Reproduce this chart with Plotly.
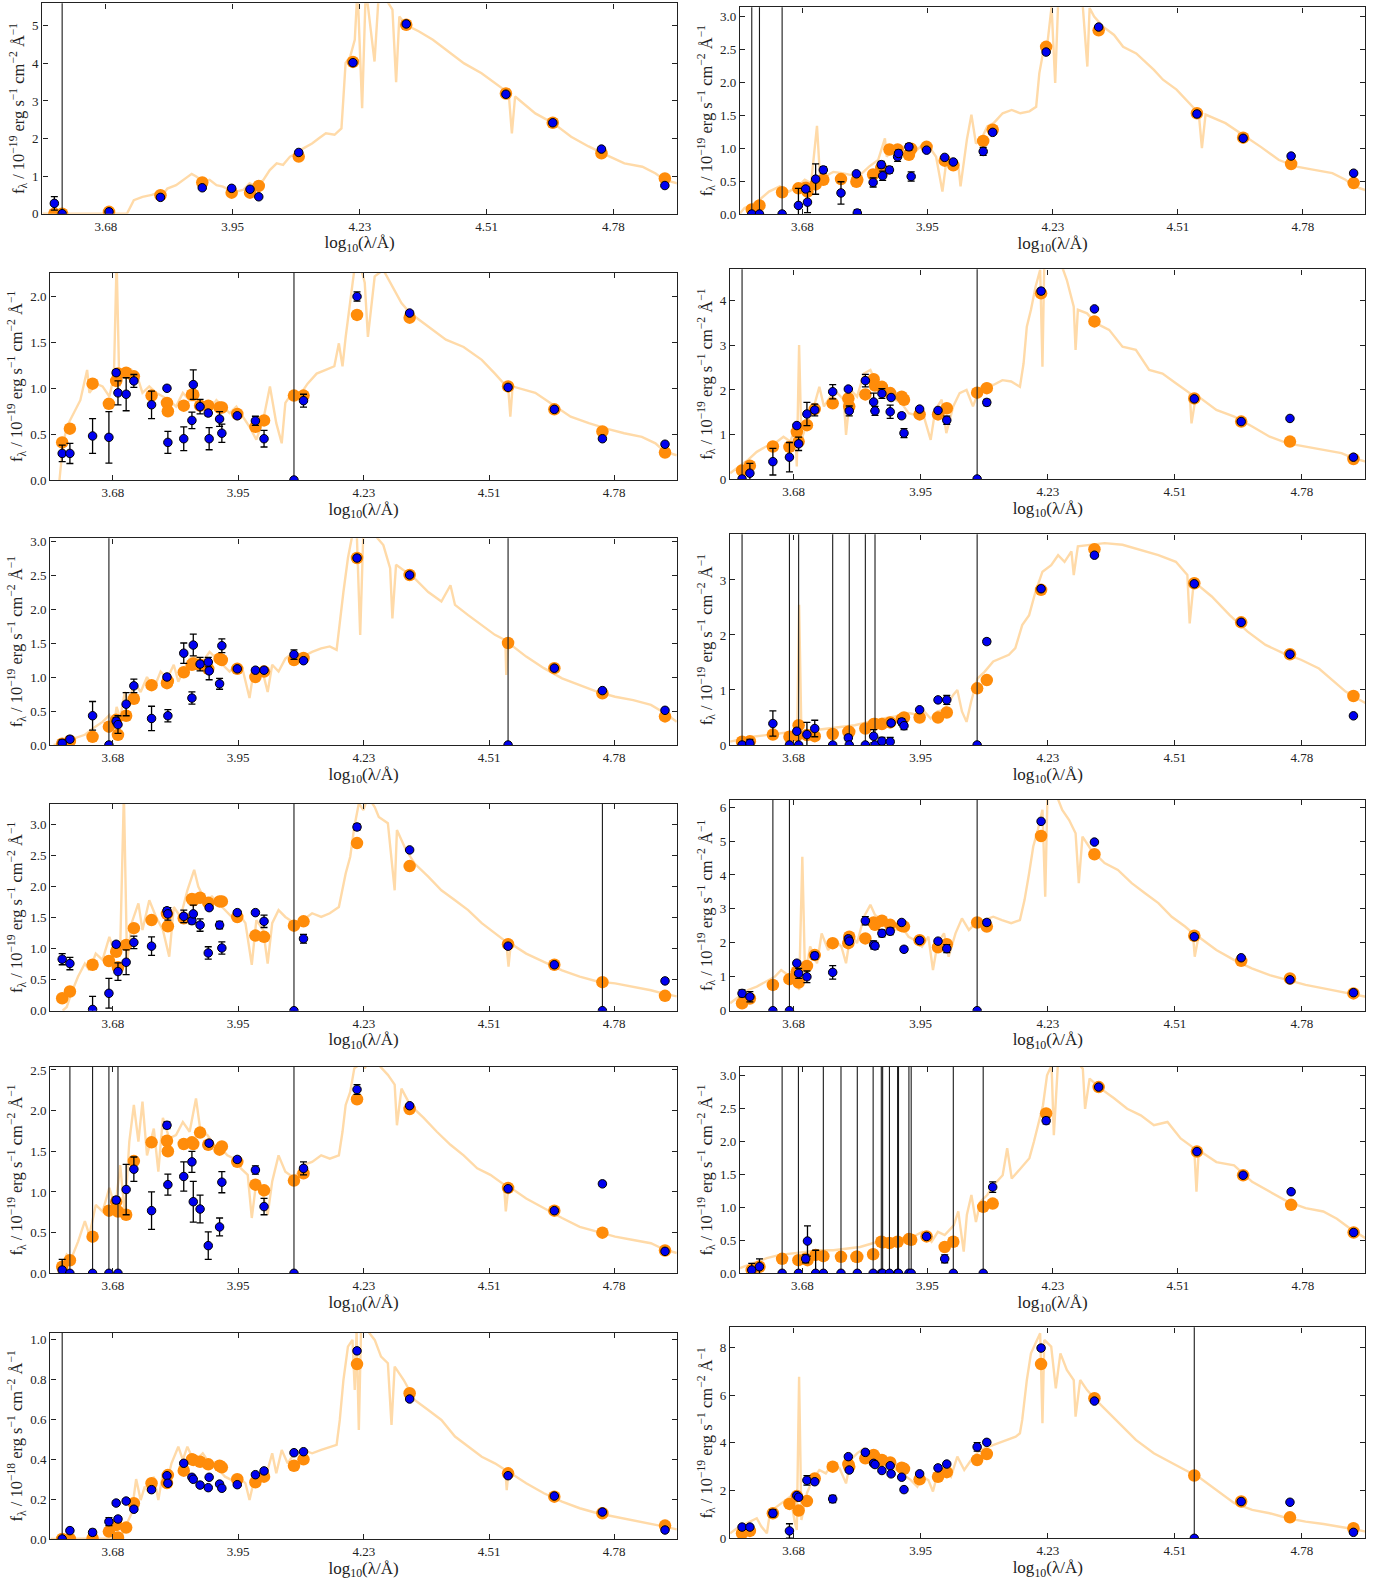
import plotly.graph_objects as go

W, H = 1389, 1584

# common filter positions, log10(lambda/A)
FILTER_X = [3.566, 3.583, 3.633, 3.669, 3.685, 3.689, 3.707, 3.724, 3.763, 3.797,
            3.799, 3.834, 3.852, 3.855, 3.870, 3.888, 3.890, 3.913, 3.918, 3.952,
            3.992, 4.011, 4.077, 4.098, 4.216, 4.332, 4.549, 4.651, 4.757, 4.895]

X_RANGE = [3.540, 4.921]
X_TICKS = [3.678, 3.954, 4.231, 4.507, 4.783]
X_LABELS = ["3.68", "3.95", "4.23", "4.51", "4.78"]

N = None

# ---------------- panel 1 ----------------
P1_SPEC = [(3.540, 0.0), (3.724, 0.0), (3.739, 0.36), (3.758, 0.45), (3.778, 0.50), (3.793, 0.56),
           (3.800, 0.47), (3.812, 0.67), (3.831, 0.76), (3.846, 0.90), (3.865, 1.06), (3.875, 0.99),
           (3.890, 0.85), (3.904, 0.90), (3.919, 0.76), (3.933, 0.72), (3.948, 0.63), (3.962, 0.59),
           (3.977, 0.63), (3.991, 0.81), (4.006, 0.72), (4.021, 0.90), (4.035, 1.16), (4.050, 1.34),
           (4.064, 1.30), (4.079, 1.52), (4.093, 1.61), (4.108, 1.74), (4.127, 1.87), (4.142, 2.01),
           (4.157, 2.14), (4.176, 2.10), (4.191, 2.27), (4.195, 3.03), (4.200, 4.01), (4.210, 4.18),
           (4.220, 4.63), (4.226, 6.0), (4.236, 2.81), (4.244, 6.0), (4.263, 4.05), (4.273, 6.0),
           (4.292, 5.65), (4.302, 5.43), (4.310, 3.50), (4.317, 5.25), (4.331, 5.03), (4.360, 4.85),
           (4.390, 4.63), (4.419, 4.36), (4.458, 4.00), (4.496, 3.74), (4.535, 3.38), (4.555, 3.21),
           (4.562, 2.14), (4.569, 3.12), (4.613, 2.67), (4.652, 2.41), (4.691, 2.05), (4.729, 1.79),
           (4.768, 1.56), (4.807, 1.34), (4.846, 1.25), (4.875, 1.07), (4.894, 0.90), (4.922, 0.81)]
P1_OBS = [0.275, 0.0, N, N, 0.05, N, N, N, N, 0.435, N, N, N, N, N, 0.69, N, N, N, 0.675,
          0.65, 0.45, N, 1.63, 4.02, 5.05, 3.18, 2.42, 1.72, 0.75]
P1_ERR = [0.18, 0, N, N, 0.02, N, N, N, N, 0.02, N, N, N, N, N, 0.03, N, N, N, 0.03,
          0.04, 0.03, N, 0.04, 0.05, 0.04, 0.03, 0.03, 0.04, 0.03]
P1_LIM = [1]
P1_MOD = [0.0, 0.0, N, N, 0.05, N, N, N, N, 0.49, N, N, N, N, N, 0.83, N, N, N, 0.56,
          0.56, 0.74, N, 1.52, 4.04, 5.03, 3.20, 2.42, 1.61, 0.94]

# ---------------- panel 2 ----------------
P2_SPEC = [(3.540, 0.01), (3.550, 0.09), (3.566, 0.14), (3.582, 0.21), (3.604, 0.34), (3.628, 0.42),
           (3.648, 0.34), (3.668, 0.42), (3.683, 0.52), (3.697, 0.47), (3.710, 1.34), (3.717, 0.52),
           (3.727, 0.57), (3.746, 0.64), (3.766, 0.62), (3.786, 0.59), (3.805, 0.59), (3.825, 0.72),
           (3.845, 0.82), (3.860, 1.15), (3.864, 0.87), (3.879, 1.00), (3.894, 0.95), (3.909, 1.07),
           (3.923, 0.92), (3.938, 1.02), (3.953, 1.07), (3.973, 0.87), (3.987, 0.34), (3.997, 0.87),
           (4.022, 0.75), (4.027, 0.42), (4.041, 1.13), (4.051, 1.51), (4.061, 1.07), (4.076, 1.18),
           (4.086, 1.33), (4.100, 1.38), (4.120, 1.53), (4.140, 1.58), (4.159, 1.53), (4.179, 1.56),
           (4.194, 1.63), (4.201, 2.14), (4.209, 2.44), (4.218, 2.54), (4.228, 3.15), (4.236, 1.99),
           (4.243, 3.30), (4.277, 3.30), (4.297, 3.15), (4.307, 2.24), (4.312, 3.13), (4.322, 3.00),
           (4.341, 2.85), (4.366, 2.72), (4.386, 2.54), (4.415, 2.44), (4.454, 2.19), (4.474, 2.04),
           (4.504, 1.89), (4.533, 1.68), (4.553, 1.53), (4.560, 1.00), (4.568, 1.51), (4.612, 1.38),
           (4.651, 1.20), (4.690, 1.02), (4.730, 0.82), (4.769, 0.72), (4.808, 0.67), (4.848, 0.62),
           (4.877, 0.52), (4.897, 0.42), (4.922, 0.36)]
P2_OBS = [0.0, 0.0, 0.0, 0.13, 0.38, 0.18, 0.53, 0.67, 0.32, 0.61, 0.015, 0.48, 0.75, 0.58, 0.67,
          0.87, 0.92, 1.02, 0.57, 0.97, 0.86, 0.79, 0.95, 1.24, 2.46, 2.84, 1.52, 1.15, 0.88, 0.62]
P2_ERR = [0, 0, 0, 0.26, 0.03, 0.16, 0.23, 0.05, 0.17, 0.02, 0.05, 0.07, 0.05, 0.07, 0.05,
          0.07, 0.05, 0.05, 0.07, 0.02, 0.02, 0.02, 0.06, 0.02, 0.02, 0.02, 0.02, 0.02, 0.02, 0.02]
P2_LIM = [0, 1, 2]
P2_MOD = [0.07, 0.13, 0.33, 0.39, 0.40, 0.34, 0.45, 0.52, 0.53, 0.49, 0.52, 0.60, 0.70, 0.65, 0.98,
          0.98, N, 0.90, 0.99, 1.02, 0.81, 0.74, 1.11, 1.28, 2.54, 2.79, 1.53, 1.16, 0.76, 0.47]

# ---------------- panel 3 ----------------
P3_SPEC = [(3.560, 0.0), (3.567, 0.36), (3.576, 0.58), (3.591, 0.73), (3.606, 0.87), (3.621, 1.20),
           (3.626, 0.95), (3.641, 1.05), (3.655, 1.02), (3.670, 0.91), (3.680, 1.13), (3.686, 2.40),
           (3.692, 1.02), (3.704, 1.20), (3.719, 1.20), (3.734, 1.09), (3.743, 0.95), (3.758, 1.02),
           (3.773, 0.95), (3.788, 0.91), (3.802, 0.87), (3.817, 0.80), (3.832, 0.95), (3.847, 0.87),
           (3.861, 0.87), (3.876, 0.84), (3.891, 0.76), (3.906, 0.87), (3.920, 0.80), (3.935, 0.73),
           (3.950, 0.80), (3.965, 0.69), (3.979, 0.58), (3.994, 0.44), (4.009, 0.65), (4.024, 1.02),
           (4.038, 0.62), (4.050, 0.40), (4.058, 0.84), (4.073, 0.95), (4.088, 0.91), (4.107, 1.05),
           (4.127, 1.16), (4.147, 1.20), (4.166, 1.24), (4.176, 1.49), (4.184, 1.24), (4.191, 1.56),
           (4.201, 1.96), (4.210, 2.29), (4.220, 2.40), (4.233, 2.15), (4.240, 1.56), (4.255, 2.22),
           (4.274, 2.29), (4.294, 2.11), (4.314, 1.93), (4.333, 1.82), (4.363, 1.71), (4.392, 1.60),
           (4.412, 1.53), (4.451, 1.45), (4.491, 1.31), (4.520, 1.16), (4.540, 1.05), (4.550, 0.96),
           (4.554, 0.69), (4.559, 1.02), (4.609, 0.95), (4.648, 0.82), (4.687, 0.69), (4.727, 0.62),
           (4.766, 0.56), (4.805, 0.51), (4.844, 0.47), (4.874, 0.40), (4.894, 0.31), (4.921, 0.27)]
P3_OBS = [0.29, 0.29, 0.48, 0.465, 1.17, 0.95, 0.935, 1.08, 0.82, 1.00, 0.41, 0.45, 0.65, 1.04, 0.80,
          0.73, 0.45, 0.665, 0.51, 0.70, 0.645, 0.45, 0.0, 0.865, 2.00, 1.82, 1.01, 0.77, 0.45, 0.39]
P3_ERR = [0.09, 0.11, 0.19, 0.28, 0.03, 0.13, 0.18, 0.07, 0.15, 0.02, 0.12, 0.13, 0.09, 0.16, 0.08,
          0.03, 0.12, 0.08, 0.10, 0.02, 0.05, 0.09, 0, 0.07, 0.05, 0.02, 0.01, 0.01, 0.01, 0.01]
P3_LIM = [22]
P3_MOD = [0.41, 0.56, 1.05, 0.83, 1.08, 1.16, 1.17, 1.13, 0.92, 0.84, 0.75, 0.81, 0.93, 0.93, 0.81,
          0.81, N, 0.79, 0.79, 0.72, 0.58, 0.65, 0.92, 0.92, 1.80, 1.77, 1.02, 0.77, 0.53, 0.30]

# ---------------- panel 4 ----------------
P4_SPEC = [(3.540, 0.13), (3.559, 0.28), (3.579, 0.43), (3.598, 0.61), (3.618, 0.73), (3.637, 0.80),
           (3.656, 0.95), (3.671, 0.84), (3.681, 1.14), (3.685, 0.28), (3.690, 3.01), (3.695, 0.88),
           (3.707, 1.25), (3.719, 1.51), (3.734, 2.07), (3.744, 1.63), (3.758, 1.85), (3.773, 1.93),
           (3.787, 1.78), (3.792, 0.99), (3.802, 2.00), (3.816, 1.85), (3.831, 2.37), (3.845, 2.45),
           (3.855, 2.22), (3.870, 2.15), (3.884, 1.93), (3.899, 1.78), (3.913, 1.70), (3.928, 1.48),
           (3.942, 1.44), (3.957, 1.55), (3.971, 1.03), (3.976, 0.88), (3.986, 1.55), (4.000, 1.78),
           (4.010, 1.03), (4.025, 1.63), (4.039, 1.93), (4.054, 2.00), (4.068, 1.63), (4.083, 2.04),
           (4.097, 2.15), (4.112, 2.11), (4.132, 2.22), (4.151, 2.19), (4.170, 2.07), (4.178, 2.60),
           (4.185, 3.42), (4.194, 3.80), (4.204, 4.32), (4.214, 4.70), (4.219, 2.52), (4.223, 4.90),
           (4.257, 4.90), (4.272, 4.47), (4.287, 3.87), (4.291, 2.90), (4.296, 3.80), (4.316, 3.72),
           (4.335, 3.50), (4.364, 3.35), (4.393, 2.97), (4.422, 2.90), (4.451, 2.45), (4.480, 2.37),
           (4.509, 2.15), (4.539, 1.93), (4.543, 1.25), (4.553, 1.89), (4.597, 1.55), (4.636, 1.40),
           (4.675, 1.18), (4.713, 0.95), (4.752, 0.80), (4.791, 0.73), (4.830, 0.65), (4.869, 0.58),
           (4.897, 0.46), (4.922, 0.39)]
P4_OBS = [0.0, 0.13, 0.39, 0.49, 1.20, 0.79, 1.46, 1.55, 1.96, 2.02, 1.53, 2.21, 1.73, 1.53, 1.92,
          1.51, 1.83, 1.42, 1.03, 1.57, 1.54, 1.32, 0.0, 1.72, 4.22, 3.82, 1.80, 1.29, 1.36, 0.49]
P4_ERR = [0, 0.22, 0.30, 0.33, 0.04, 0.15, 0.26, 0.13, 0.16, 0.03, 0.11, 0.14, 0.20, 0.10, 0.11,
          0.15, 0.04, 0.06, 0.10, 0.03, 0.04, 0.09, 0, 0.07, 0.06, 0.02, 0.03, 0.03, 0.03, 0.02]
P4_LIM = [0, 22]
P4_MOD = [0.19, 0.30, 0.73, 0.72, 1.06, 0.84, 1.21, 1.57, 1.70, 1.81, 1.63, 1.90, 2.24, 2.10, 2.07,
          1.93, N, 1.85, 1.78, 1.45, 1.45, 1.59, 1.94, 2.04, 4.17, 3.54, 1.81, 1.29, 0.84, 0.45]

# ---------------- panel 5 ----------------
P5_SPEC = [(3.547, 0.0), (3.560, 0.02), (3.576, 0.06), (3.596, 0.10), (3.616, 0.15), (3.635, 0.25),
           (3.655, 0.34), (3.670, 0.44), (3.680, 0.29), (3.686, 0.56), (3.694, 0.39), (3.704, 0.78),
           (3.714, 0.59), (3.724, 0.93), (3.739, 0.78), (3.753, 1.00), (3.768, 0.83), (3.783, 1.08),
           (3.798, 0.98), (3.812, 1.18), (3.822, 0.93), (3.832, 1.08), (3.847, 1.27), (3.861, 1.30),
           (3.876, 1.23), (3.891, 1.37), (3.906, 1.27), (3.920, 1.18), (3.935, 1.08), (3.950, 1.18),
           (3.965, 1.08), (3.979, 0.69), (3.989, 1.13), (4.009, 1.05), (4.019, 0.78), (4.029, 1.18),
           (4.043, 1.08), (4.058, 1.27), (4.078, 1.37), (4.097, 1.30), (4.117, 1.37), (4.137, 1.42),
           (4.156, 1.45), (4.171, 1.40), (4.178, 1.81), (4.186, 2.25), (4.196, 2.75), (4.206, 3.10),
           (4.215, 3.20), (4.223, 1.62), (4.230, 3.14), (4.255, 3.09), (4.274, 2.94), (4.289, 2.60),
           (4.294, 1.86), (4.302, 2.65), (4.323, 2.55), (4.343, 2.45), (4.373, 2.25), (4.402, 2.11),
           (4.422, 2.35), (4.432, 2.06), (4.461, 1.91), (4.491, 1.76), (4.520, 1.62), (4.543, 1.54),
           (4.545, 1.03), (4.550, 1.50), (4.589, 1.30), (4.628, 1.13), (4.668, 0.98), (4.707, 0.88),
           (4.746, 0.78), (4.785, 0.71), (4.825, 0.66), (4.864, 0.59), (4.894, 0.47), (4.921, 0.34)]
P5_OBS = [0.025, 0.085, 0.43, 0.0, 0.35, 0.30, 0.60, 0.87, 0.39, 1.00, 0.43, 1.35, 0.69, 1.47, 1.19,
          1.22, 1.09, 0.90, 1.46, 1.12, 1.10, 1.10, 1.33, 1.24, 2.75, 2.50, 0.0, 1.13, 0.80, 0.51]
P5_ERR = [0.05, 0.04, 0.21, 0, 0.05, 0.13, 0.17, 0.10, 0.18, 0.02, 0.09, 0.15, 0.09, 0.16, 0.10,
          0.07, 0.13, 0.08, 0.10, 0.02, 0.03, 0.02, 0.07, 0.02, 0.02, 0.02, 0, 0.02, 0.02, 0.02]
P5_LIM = [3, 26]
P5_MOD = [0.02, 0.06, 0.12, 0.27, 0.37, 0.15, 0.43, 0.68, 0.88, 0.91, 0.94, 1.07, 1.18, 1.20, 1.18,
          1.12, N, 1.27, 1.25, 1.12, 1.00, 1.08, 1.25, 1.28, 2.75, 2.50, 1.50, 1.13, 0.76, 0.42]

# ---------------- panel 6 ----------------
P6_SPEC = [(3.540, 0.06), (3.559, 0.09), (3.589, 0.15), (3.618, 0.18), (3.647, 0.21), (3.676, 0.24),
           (3.686, 0.22), (3.690, 2.55), (3.695, 0.24), (3.724, 0.27), (3.753, 0.29), (3.782, 0.33),
           (3.811, 0.36), (3.841, 0.42), (3.870, 0.48), (3.899, 0.52), (3.928, 0.58), (3.947, 0.55),
           (3.962, 0.61), (3.976, 0.48), (3.991, 0.61), (4.005, 0.64), (4.025, 0.91), (4.034, 1.00),
           (4.044, 0.61), (4.054, 0.42), (4.064, 0.79), (4.078, 1.21), (4.093, 1.33), (4.112, 1.52),
           (4.131, 1.58), (4.146, 1.64), (4.160, 1.76), (4.175, 2.18), (4.190, 2.36), (4.204, 2.79),
           (4.219, 3.15), (4.238, 3.27), (4.253, 3.45), (4.267, 3.33), (4.282, 3.52), (4.287, 3.09),
           (4.296, 3.61), (4.325, 3.64), (4.354, 3.67), (4.393, 3.64), (4.432, 3.55), (4.471, 3.45),
           (4.509, 3.33), (4.534, 3.09), (4.539, 2.21), (4.548, 2.97), (4.587, 2.70), (4.626, 2.36),
           (4.665, 2.06), (4.704, 1.82), (4.742, 1.67), (4.781, 1.55), (4.820, 1.39), (4.849, 1.18),
           (4.878, 0.97), (4.902, 0.85), (4.922, 0.76)]
P6_OBS = [0.0, 0.03, 0.39, 0.0, 0.25, 0.0, 0.19, 0.30, 0.0, 0.13, 0.0, 0.0, 0.16, 0.0, 0.07,
          0.06, 0.40, 0.42, 0.35, 0.64, 0.82, 0.82, 0.0, 1.88, 2.84, 3.45, 2.93, 2.23, 1.65, 0.53]
P6_ERR = [0, 0.07, 0.23, 0, 0.03, 0, 0.22, 0.15, 0, 0.05, 0, 0, 0.12, 0, 0.07,
          0.08, 0.04, 0.06, 0.07, 0.02, 0.03, 0.08, 0, 0.05, 0.03, 0.02, 0.02, 0.02, 0.02, 0.02]
P6_LIM = [0, 3, 5, 8, 10, 11, 13, 22]
P6_MOD = [0.06, 0.07, 0.19, 0.15, 0.17, 0.36, 0.18, 0.16, 0.20, 0.24, 0.24, 0.30, 0.38, 0.38, 0.38,
          0.41, N, 0.47, 0.50, 0.50, 0.50, 0.59, 1.03, 1.18, 2.82, 3.56, 2.94, 2.23, 1.65, 0.89]

# ---------------- panel 7 ----------------
P7_SPEC = [(3.567, 0.0), (3.576, 0.06), (3.586, 0.28), (3.601, 0.55), (3.616, 0.76), (3.626, 0.65),
           (3.640, 0.92), (3.655, 0.82), (3.670, 1.19), (3.684, 0.87), (3.694, 1.03), (3.702, 3.50),
           (3.709, 0.76), (3.719, 1.41), (3.734, 1.73), (3.743, 1.30), (3.758, 1.78), (3.773, 1.51),
           (3.788, 1.30), (3.802, 0.87), (3.812, 1.67), (3.827, 1.51), (3.842, 1.94), (3.857, 2.27),
           (3.866, 2.00), (3.881, 1.78), (3.896, 1.84), (3.911, 1.73), (3.925, 1.62), (3.940, 1.51),
           (3.955, 1.57), (3.970, 1.41), (3.984, 0.74), (3.994, 1.46), (4.009, 1.30), (4.019, 0.76),
           (4.029, 1.41), (4.043, 1.62), (4.058, 1.51), (4.078, 1.41), (4.097, 1.46), (4.117, 1.57),
           (4.137, 1.51), (4.156, 1.57), (4.176, 1.67), (4.184, 1.94), (4.191, 2.21), (4.201, 2.48),
           (4.210, 2.96), (4.220, 3.34), (4.230, 3.23), (4.240, 3.45), (4.255, 3.28), (4.264, 3.12),
           (4.284, 3.02), (4.299, 1.94), (4.304, 2.91), (4.324, 2.59), (4.343, 2.37), (4.373, 2.16),
           (4.402, 1.94), (4.432, 1.78), (4.461, 1.62), (4.491, 1.41), (4.520, 1.25), (4.545, 1.11),
           (4.550, 0.71), (4.555, 1.08), (4.589, 0.92), (4.628, 0.79), (4.668, 0.65), (4.707, 0.55),
           (4.746, 0.47), (4.785, 0.44), (4.825, 0.39), (4.864, 0.33), (4.894, 0.27), (4.921, 0.23)]
P7_OBS = [0.83, 0.76, 0.02, 0.28, 1.07, 0.63, 0.78, 1.10, 1.04, 1.61, 1.56, 1.52, 1.45, 1.56, 1.38,
          0.93, 1.66, 1.38, 1.01, 1.58, 1.58, 1.44, 0.0, 1.16, 2.96, 2.59, 1.04, 0.74, 0.0, 0.48]
P7_ERR = [0.09, 0.10, 0.21, 0.24, 0.04, 0.14, 0.20, 0.10, 0.15, 0.05, 0.10, 0.10, 0.05, 0.14, 0.10,
          0.10, 0.03, 0.06, 0.10, 0.02, 0.03, 0.10, 0, 0.07, 0.05, 0.02, 0.02, 0.02, 0, 0.02]
P7_LIM = [22, 28]
P7_MOD = [0.20, 0.31, 0.74, 0.80, 0.95, 0.70, 1.06, 1.33, 1.46, 1.56, 1.36, 1.49, 1.80, 1.78, 1.82,
          1.74, N, 1.76, 1.76, 1.51, 1.21, 1.19, 1.37, 1.44, 2.70, 2.33, 1.07, 0.74, 0.46, 0.24]

# ---------------- panel 8 ----------------
P8_SPEC = [(3.540, 0.22), (3.559, 0.41), (3.579, 0.61), (3.598, 0.71), (3.618, 0.86), (3.637, 1.00),
           (3.651, 1.20), (3.666, 1.05), (3.681, 1.25), (3.690, 0.61), (3.697, 4.54), (3.703, 1.00),
           (3.714, 1.89), (3.729, 1.40), (3.739, 2.28), (3.753, 1.79), (3.768, 2.08), (3.782, 1.89),
           (3.792, 1.40), (3.802, 2.28), (3.816, 1.99), (3.831, 2.77), (3.845, 3.12), (3.855, 2.82),
           (3.870, 2.67), (3.884, 2.53), (3.899, 2.38), (3.913, 2.48), (3.928, 2.18), (3.942, 2.08),
           (3.957, 1.89), (3.971, 2.18), (3.981, 1.20), (3.991, 1.99), (4.005, 2.28), (4.015, 1.59),
           (4.030, 2.28), (4.044, 2.72), (4.059, 2.38), (4.074, 2.58), (4.093, 2.67), (4.112, 2.77),
           (4.131, 2.67), (4.151, 2.58), (4.170, 2.67), (4.180, 3.26), (4.190, 4.05), (4.199, 4.84),
           (4.209, 5.33), (4.219, 5.92), (4.225, 3.36), (4.230, 6.40), (4.248, 6.40), (4.262, 5.92),
           (4.277, 5.62), (4.291, 5.23), (4.298, 3.76), (4.306, 5.13), (4.325, 4.74), (4.354, 4.35),
           (4.383, 4.15), (4.413, 3.76), (4.442, 3.46), (4.471, 3.17), (4.500, 2.77), (4.529, 2.48),
           (4.546, 2.28), (4.550, 1.59), (4.558, 2.18), (4.597, 1.79), (4.636, 1.49), (4.674, 1.25),
           (4.713, 1.05), (4.752, 0.90), (4.791, 0.76), (4.830, 0.66), (4.869, 0.56), (4.897, 0.49),
           (4.922, 0.41)]
P8_OBS = [0.51, 0.41, 0.0, 0.0, 1.40, 1.10, 1.00, 1.62, 1.13, 2.12, 2.05, 2.65, 1.94, 1.91, 2.28,
          2.34, N, 2.60, 1.81, 2.07, 2.05, 1.83, 0.0, 2.60, 5.58, 4.97, 2.18, 1.56, 0.91, 0.53]
P8_ERR = [0.10, 0.15, 0, 0, 0.05, 0.15, 0.17, 0.10, 0.20, 0.08, 0.08, 0.12, 0.12, 0.10, 0.10,
          0.10, N, 0.04, 0.07, 0.06, 0.03, 0.12, 0, 0.08, 0.05, 0.03, 0.03, 0.03, 0.03, 0.03]
P8_LIM = [2, 3, 22]
P8_MOD = [0.22, 0.36, 0.76, 0.93, 1.15, 0.83, 1.32, 1.64, 1.99, 1.99, 2.18, 2.13, 2.60, 2.53, 2.65,
          2.53, N, 2.50, 2.48, 2.08, 1.87, 1.96, 2.60, 2.48, 5.15, 4.61, 2.21, 1.47, 0.95, 0.51]

# ---------------- panel 9 ----------------
P9_SPEC = [(3.557, 0.0), (3.567, 0.10), (3.576, 0.23), (3.586, 0.18), (3.601, 0.39), (3.616, 0.64),
           (3.626, 0.47), (3.640, 0.84), (3.655, 0.76), (3.670, 1.05), (3.683, 0.80), (3.694, 1.33),
           (3.704, 0.72), (3.714, 1.62), (3.724, 2.07), (3.734, 1.62), (3.743, 2.11), (3.753, 1.45),
           (3.768, 1.78), (3.778, 1.25), (3.788, 1.91), (3.802, 1.66), (3.817, 1.70), (3.832, 1.86),
           (3.847, 1.74), (3.861, 2.15), (3.871, 1.74), (3.886, 1.70), (3.901, 1.58), (3.916, 1.54),
           (3.930, 1.45), (3.945, 1.41), (3.960, 1.29), (3.975, 1.21), (3.984, 0.68), (3.994, 1.13),
           (4.009, 0.96), (4.019, 0.72), (4.029, 1.13), (4.043, 1.45), (4.058, 1.25), (4.078, 1.17),
           (4.097, 1.33), (4.117, 1.37), (4.137, 1.45), (4.156, 1.41), (4.176, 1.45), (4.184, 1.74),
           (4.191, 2.07), (4.201, 2.23), (4.210, 2.52), (4.220, 2.56), (4.227, 2.65), (4.233, 2.52),
           (4.245, 2.65), (4.264, 2.56), (4.284, 2.44), (4.299, 2.32), (4.304, 1.82), (4.314, 2.27),
           (4.333, 2.07), (4.363, 1.91), (4.392, 1.74), (4.422, 1.58), (4.451, 1.45), (4.481, 1.29),
           (4.510, 1.21), (4.540, 1.09), (4.544, 0.76), (4.550, 1.07), (4.589, 0.92), (4.628, 0.80),
           (4.668, 0.68), (4.707, 0.57), (4.746, 0.51), (4.785, 0.45), (4.825, 0.41), (4.864, 0.37),
           (4.894, 0.29), (4.921, 0.25)]
P9_OBS = [0.04, 0.0, 0.0, 0.0, 0.90, 0.0, 1.03, 1.28, 0.77, 1.82, 1.09, 1.19, 1.37, 0.88, 0.79,
          0.34, 1.60, 0.57, 1.12, 1.40, 1.27, 0.82, 0.0, 1.29, 2.26, 2.06, 1.04, 0.77, 1.10, 0.27]
P9_ERR = [0.13, 0, 0, 0, 0.04, 0, 0.31, 0.15, 0.23, 0.04, 0.13, 0.18, 0.13, 0.25, 0.17,
          0.17, 0.03, 0.11, 0.13, 0.03, 0.05, 0.10, 0, 0.08, 0.06, 0.02, 0.02, 0.02, 0.03, 0.02]
P9_LIM = [1, 2, 3, 5, 22]
P9_MOD = [0.08, 0.16, 0.45, 0.77, 0.88, 0.76, 0.72, 1.38, 1.61, 1.63, 1.50, 1.59, 1.61, 1.59, 1.73,
          1.58, N, 1.52, 1.56, 1.37, 1.09, 1.02, 1.14, 1.23, 2.14, 2.02, 1.05, 0.77, 0.50, 0.28]

# ---------------- panel 10 ----------------
P10_SPEC = [(3.540, 0.08), (3.560, 0.13), (3.579, 0.18), (3.599, 0.23), (3.628, 0.28), (3.658, 0.30),
            (3.687, 0.33), (3.717, 0.35), (3.746, 0.35), (3.776, 0.38), (3.805, 0.40), (3.835, 0.46),
            (3.864, 0.51), (3.894, 0.53), (3.923, 0.56), (3.943, 0.63), (3.963, 0.48), (3.977, 0.63),
            (3.992, 0.58), (4.012, 0.73), (4.022, 0.94), (4.034, 0.33), (4.041, 0.89), (4.051, 1.19),
            (4.061, 0.78), (4.071, 1.09), (4.086, 1.19), (4.100, 1.34), (4.120, 1.49), (4.130, 1.90),
            (4.140, 1.44), (4.159, 1.59), (4.179, 1.75), (4.189, 2.00), (4.199, 2.30), (4.209, 2.55),
            (4.218, 3.01), (4.228, 3.16), (4.233, 2.10), (4.243, 3.30), (4.277, 3.26), (4.297, 3.11),
            (4.302, 2.50), (4.312, 2.96), (4.336, 2.81), (4.366, 2.66), (4.395, 2.50), (4.425, 2.40),
            (4.454, 2.25), (4.484, 2.30), (4.513, 2.05), (4.543, 1.90), (4.548, 1.24), (4.553, 1.87),
            (4.592, 1.69), (4.631, 1.64), (4.671, 1.39), (4.710, 1.24), (4.749, 1.09), (4.789, 0.99),
            (4.828, 0.94), (4.858, 0.83), (4.887, 0.68), (4.922, 0.53)]
P10_OBS = [0.05, 0.10, 0.0, 0.0, 0.22, 0.49, 0.0, 0.0, 0.0, N, 0.0, 0.0, 0.0, 0.0, 0.0,
           0.0, 0.0, 0.0, 0.0, 0.56, 0.22, 0.0, 0.0, 1.31, 2.32, 2.83, 1.85, 1.49, 1.24, 0.62]
P10_ERR = [0.10, 0.12, 0, 0, 0.06, 0.23, 0.35, 0, 0, N, 0, 0, 0, 0, 0,
           0, 0, 0, 0, 0.03, 0.06, 0, 0, 0.08, 0.05, 0.02, 0.02, 0.02, 0.03, 0.02]
P10_LIM = [2, 3, 7, 8, 10, 11, 12, 13, 14, 15, 16, 17, 18, 21, 22]
P10_MOD = [0.05, 0.10, 0.22, 0.20, 0.22, 0.20, 0.28, 0.26, 0.25, 0.25, 0.25, 0.29, 0.48, 0.47, 0.46,
           0.48, N, 0.52, 0.51, 0.56, 0.40, 0.48, 1.01, 1.06, 2.43, 2.83, 1.85, 1.49, 1.04, 0.62]

# ---------------- panel 11 ----------------
P11_SPEC = [(3.540, 0.0), (3.675, 0.0), (3.689, 0.003), (3.699, 0.028), (3.709, 0.078), (3.719, 0.129),
            (3.729, 0.300), (3.739, 0.195), (3.748, 0.262), (3.758, 0.229), (3.768, 0.312), (3.778, 0.195),
            (3.788, 0.329), (3.798, 0.295), (3.807, 0.379), (3.822, 0.462), (3.832, 0.396), (3.842, 0.462),
            (3.852, 0.412), (3.861, 0.396), (3.876, 0.429), (3.891, 0.379), (3.906, 0.362), (3.916, 0.337),
            (3.925, 0.312), (3.940, 0.295), (3.955, 0.312), (3.970, 0.279), (3.979, 0.195), (3.989, 0.295),
            (4.004, 0.329), (4.019, 0.346), (4.029, 0.429), (4.038, 0.329), (4.050, 0.446), (4.063, 0.379),
            (4.078, 0.429), (4.097, 0.446), (4.117, 0.429), (4.137, 0.446), (4.156, 0.462), (4.171, 0.471),
            (4.178, 0.596), (4.186, 0.796), (4.196, 0.963), (4.206, 0.997), (4.211, 0.746), (4.215, 1.040),
            (4.220, 0.546), (4.225, 1.060), (4.240, 1.040), (4.255, 0.997), (4.269, 0.913), (4.284, 0.880),
            (4.292, 0.571), (4.299, 0.863), (4.319, 0.796), (4.343, 0.696), (4.373, 0.646), (4.402, 0.596),
            (4.432, 0.513), (4.461, 0.462), (4.491, 0.412), (4.520, 0.379), (4.543, 0.346), (4.546, 0.245),
            (4.550, 0.337), (4.589, 0.279), (4.628, 0.229), (4.668, 0.187), (4.707, 0.154), (4.746, 0.129),
            (4.785, 0.112), (4.825, 0.095), (4.864, 0.078), (4.894, 0.062), (4.921, 0.048)]
P11_OBS = [0.0, 0.042, 0.033, 0.087, 0.18, 0.10, 0.19, 0.149, 0.247, 0.317, 0.279, 0.379, 0.309, 0.299, 0.27,
           0.257, 0.309, 0.275, 0.254, 0.272, 0.322, 0.341, 0.432, 0.437, 0.942, 0.701, 0.317, 0.215, 0.135, 0.045]
P11_ERR = [0, 0.01, 0.015, 0.02, 0.01, 0.01, 0.01, 0.01, 0.01, 0.008, 0.008, 0.008, 0.005, 0.005, 0.005,
           0.005, 0.005, 0.005, 0.005, 0.005, 0.005, 0.005, 0.005, 0.005, 0.008, 0.005, 0.005, 0.005, 0.005, 0.005]
P11_LIM = [0]
P11_MOD = [0.0, 0.0, 0.003, 0.037, 0.07, 0.008, 0.057, 0.179, 0.279, 0.28, 0.32, 0.342, 0.399, 0.396, 0.387,
           0.374, N, 0.367, 0.359, 0.299, 0.284, 0.312, 0.367, 0.399, 0.876, 0.73, 0.329, 0.212, 0.129, 0.067]

# ---------------- panel 12 ----------------
P12_SPEC = [(3.540, 0.21), (3.555, 0.42), (3.569, 0.56), (3.584, 0.70), (3.598, 0.84), (3.608, 0.49),
            (3.620, 0.21), (3.627, 1.12), (3.642, 1.33), (3.656, 1.54), (3.671, 1.75), (3.681, 0.63),
            (3.685, 0.35), (3.690, 6.77), (3.695, 0.77), (3.707, 1.89), (3.719, 2.44), (3.734, 2.86),
            (3.748, 2.72), (3.763, 3.14), (3.778, 2.93), (3.792, 2.30), (3.802, 3.28), (3.816, 3.56),
            (3.831, 3.77), (3.845, 3.63), (3.860, 3.42), (3.874, 3.14), (3.889, 2.93), (3.904, 2.86),
            (3.918, 2.65), (3.933, 2.44), (3.947, 2.16), (3.957, 2.58), (3.971, 2.44), (3.981, 1.96),
            (3.991, 2.72), (4.005, 2.86), (4.020, 2.58), (4.034, 3.42), (4.049, 2.86), (4.064, 3.28),
            (4.083, 3.70), (4.103, 3.84), (4.122, 3.98), (4.141, 4.12), (4.161, 4.26), (4.170, 4.40),
            (4.175, 4.96), (4.185, 6.63), (4.194, 7.75), (4.204, 8.17), (4.214, 8.59), (4.219, 4.82),
            (4.223, 8.31), (4.238, 8.03), (4.248, 6.28), (4.258, 7.75), (4.272, 7.05), (4.287, 6.63),
            (4.291, 5.10), (4.301, 6.63), (4.316, 6.21), (4.335, 5.80), (4.364, 5.24), (4.393, 4.68),
            (4.422, 4.12), (4.461, 3.56), (4.500, 3.14), (4.529, 2.86), (4.558, 2.58), (4.597, 2.03),
            (4.636, 1.47), (4.675, 1.19), (4.713, 1.05), (4.752, 0.84), (4.791, 0.70), (4.830, 0.60),
            (4.869, 0.49), (4.897, 0.38), (4.922, 0.28)]
P12_OBS = [0.47, 0.47, 1.05, 0.31, 1.79, 1.72, 2.43, 2.37, 1.65, 3.42, 2.86, 3.60, 3.14, 3.09, 2.84,
           3.04, 2.70, 2.56, 2.04, 2.70, 2.95, 3.11, 3.83, 4.02, 7.97, 5.75, 0.0, 1.54, 1.51, 0.25]
P12_ERR = [0.05, 0.05, 0.15, 0.30, 0.05, 0.05, 0.20, 0.05, 0.15, 0.08, 0.08, 0.08, 0.08, 0.08, 0.05,
           0.05, 0.05, 0.05, 0.08, 0.05, 0.03, 0.03, 0.18, 0.05, 0.08, 0.05, 0, 0.05, 0.03, 0.03]
P12_LIM = [26]
P12_MOD = [0.21, 0.31, 1.05, 1.44, 1.77, 1.16, 1.56, 2.51, 3.00, 3.11, 3.00, 3.35, 3.49, 3.38, 3.28,
           3.18, N, 2.96, 2.91, 2.47, 2.58, 2.77, 3.28, 3.53, 7.30, 5.87, 2.63, 1.54, 0.88, 0.42]

# y-axis upper limits, tick steps and flux exponent per panel
Y_MAX = [5.6, 3.14, 2.26, 4.71, 3.04, 3.83, 3.33, 6.21, 2.54, 3.14, 1.033, 8.84]
Y_DTICK = [1, 0.5, 0.5, 1, 0.5, 1, 0.5, 1, 0.5, 0.5, 0.2, 2]
Y_EXP = ["−19"] * 10 + ["−18", "−19"]

PANELS = [
    (P1_SPEC, P1_OBS, P1_ERR, P1_LIM, P1_MOD),
    (P2_SPEC, P2_OBS, P2_ERR, P2_LIM, P2_MOD),
    (P3_SPEC, P3_OBS, P3_ERR, P3_LIM, P3_MOD),
    (P4_SPEC, P4_OBS, P4_ERR, P4_LIM, P4_MOD),
    (P5_SPEC, P5_OBS, P5_ERR, P5_LIM, P5_MOD),
    (P6_SPEC, P6_OBS, P6_ERR, P6_LIM, P6_MOD),
    (P7_SPEC, P7_OBS, P7_ERR, P7_LIM, P7_MOD),
    (P8_SPEC, P8_OBS, P8_ERR, P8_LIM, P8_MOD),
    (P9_SPEC, P9_OBS, P9_ERR, P9_LIM, P9_MOD),
    (P10_SPEC, P10_OBS, P10_ERR, P10_LIM, P10_MOD),
    (P11_SPEC, P11_OBS, P11_ERR, P11_LIM, P11_MOD),
    (P12_SPEC, P12_OBS, P12_ERR, P12_LIM, P12_MOD),
]

# plot-area boxes in pixels: x0, x1, y0 (top), y1 (bottom)
BOXES = [
    (42.4, 676.8, 3.3, 213.7),
    (740.0, 1365.4, 7.3, 214.0),
    (50.4, 676.8, 272.7, 480.0),
    (730.1, 1365.4, 269.3, 479.0),
    (50.4, 676.8, 538.3, 745.0),
    (730.1, 1365.4, 534.3, 745.0),
    (50.4, 676.8, 804.0, 1010.7),
    (730.1, 1365.4, 800.0, 1010.7),
    (50.4, 676.8, 1066.7, 1273.3),
    (740.0, 1365.4, 1066.7, 1273.3),
    (50.4, 676.8, 1332.7, 1539.0),
    (730.1, 1365.4, 1327.3, 1538.3),
]

SPEC_COLOR = "#ffdaa8"
MODEL_COLOR = "#ff8c0a"
OBS_COLOR = "#0000f0"
FONT = "Liberation Serif"

fig = go.Figure()
layout = {}

for i, (spec, obs, err, lim, mod) in enumerate(PANELS):
    k = i + 1
    xa, ya = f"x{k}", f"y{k}"
    ymax = Y_MAX[i]

    fig.add_trace(go.Scatter(x=[p[0] for p in spec], y=[p[1] for p in spec], mode="lines",
                             line=dict(color=SPEC_COLOR, width=2.4), xaxis=xa, yaxis=ya,
                             hoverinfo="skip", showlegend=False))

    mx = [FILTER_X[j] for j, v in enumerate(mod) if v is not None]
    my = [v for v in mod if v is not None]
    fig.add_trace(go.Scatter(x=mx, y=my, mode="markers",
                             marker=dict(color=MODEL_COLOR, size=12.5, line=dict(width=0)),
                             xaxis=xa, yaxis=ya, showlegend=False))

    lx, ly = [], []
    for j in lim:
        lx += [FILTER_X[j], FILTER_X[j], None]
        ly += [0, ymax * 1.5, None]
    if lx:
        fig.add_trace(go.Scatter(x=lx, y=ly, mode="lines", line=dict(color="#1a1a1a", width=1.1),
                                 xaxis=xa, yaxis=ya, hoverinfo="skip", showlegend=False))

    ox, oy, oe = [], [], []
    for j, v in enumerate(obs):
        if v is None:
            continue
        ox.append(FILTER_X[j])
        oy.append(v)
        e = err[j]
        oe.append(0 if (e is None or j in lim) else e)
    fig.add_trace(go.Scatter(x=ox, y=oy, mode="markers",
                             marker=dict(color=OBS_COLOR, size=8.5, line=dict(color="black", width=1)),
                             error_y=dict(type="data", array=oe, visible=True, color="black",
                                          thickness=1.3, width=3.5),
                             xaxis=xa, yaxis=ya, showlegend=False))

    x0, x1, y0, y1 = BOXES[i]
    sfx = "" if k == 1 else str(k)
    fmt = ".1f" if Y_DTICK[i] < 1 else "d"
    layout[f"xaxis{sfx}"] = dict(
        domain=[x0 / W, x1 / W], range=X_RANGE, anchor=ya,
        tickvals=X_TICKS, ticktext=X_LABELS, ticks="inside", ticklen=5, tickwidth=1,
        tickcolor="#222", mirror="ticks", showline=True, linecolor="#222", linewidth=1.4,
        showgrid=False, zeroline=False, tickfont=dict(family=FONT, size=13, color="#222"),
        title=dict(text="log<sub>10</sub>(λ/Å)", font=dict(family=FONT, size=17, color="#222"),
                   standoff=3),
        automargin=False)
    layout[f"yaxis{sfx}"] = dict(
        domain=[1 - y1 / H, 1 - y0 / H], range=[0, ymax], anchor=xa,
        dtick=Y_DTICK[i], tick0=0, tickformat=fmt, ticks="inside", ticklen=5, tickwidth=1,
        tickcolor="#222", mirror="ticks", showline=True, linecolor="#222", linewidth=1.4,
        showgrid=False, zeroline=False, tickfont=dict(family=FONT, size=13, color="#222"),
        title=dict(text=f"f<sub>λ</sub> / 10<sup>{Y_EXP[i]}</sup> erg s<sup>−1</sup> "
                        f"cm<sup>−2</sup> Å<sup>−1</sup>",
                   font=dict(family=FONT, size=16.5, color="#222"), standoff=3),
        automargin=False)

fig.update_layout(width=W, height=H, margin=dict(l=0, r=0, t=0, b=0),
                  paper_bgcolor="white", plot_bgcolor="white", showlegend=False, **layout)

fig.write_html("out.html", config={"displayModeBar": False},
               post_script="document.body.style.margin='0px';")
